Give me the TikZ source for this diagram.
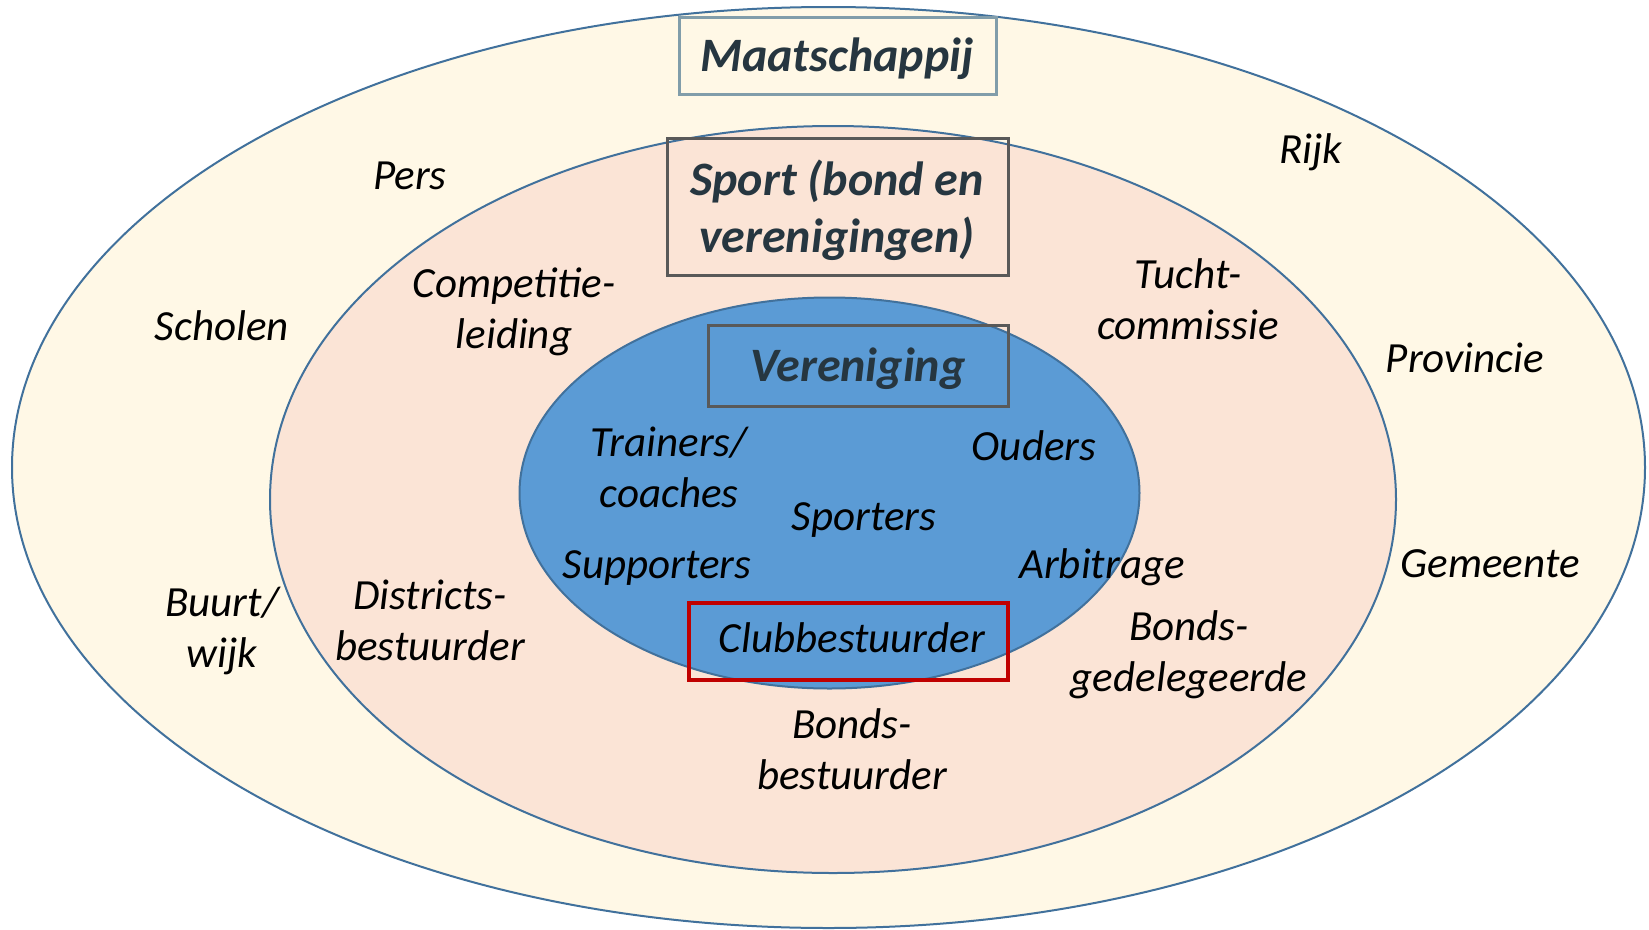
\documentclass[tikz,border=0pt]{standalone}
\usepackage{fontspec}
\setmainfont{Carlito}
\definecolor{outerfill}{HTML}{FFF8E6}
\definecolor{midfill}{HTML}{FBE4D6}
\definecolor{innerfill}{HTML}{5B9BD5}
\definecolor{ringline}{HTML}{41719C}
\definecolor{titletext}{HTML}{263640}
\definecolor{mbox}{HTML}{819DAA}
\definecolor{gbox}{HTML}{595959}
\definecolor{rbox}{HTML}{C00000}
\begin{document}
\begin{tikzpicture}[x=1pt,y=-1pt,
  ring/.style={draw=ringline,line width=2pt},
  lbl/.style={font=\fontsize{43}{51}\selectfont\itshape,align=center,anchor=base,inner sep=0pt},
  ttl/.style={font=\fontsize{48}{57}\selectfont\bfseries\itshape,text=titletext,align=center,anchor=base,inner sep=0pt},
  frame/.style={draw,line width=3pt}]
\useasboundingbox (0,0) rectangle (1649,929);
% rings
\draw[ring,fill=outerfill] (828.5,467.5) ellipse [x radius=816.5,y radius=460.5];
\draw[ring,fill=midfill] (833,499.5) ellipse [x radius=563,y radius=373.5];
\draw[ring,fill=innerfill] (829.5,493) ellipse [x radius=310,y radius=195.5];
% frames
\node[frame,draw=mbox,minimum width=317pt,minimum height=77pt,inner sep=0pt] (fM) at (837.5,55.5) {};
\node[frame,draw=gbox,minimum width=341pt,minimum height=137pt,inner sep=0pt] (fS) at (837.5,206.5) {};
\node[frame,draw=gbox,minimum width=300pt,minimum height=81pt,inner sep=0pt] (fV) at (858,365.5) {};
\node[frame,draw=rbox,line width=4.5pt,minimum width=319pt,minimum height=77pt,inner sep=0pt] (fC) at (848.5,641.5) {};
% titles
\node[ttl] (maat) at (837,71) {Maatschappij};
\node[ttl] (sport) at (837,252) {Sport (bond en\\verenigingen)};
\node[ttl] (ver) at (858,381) {Vereniging};
% outer ring labels
\node[lbl] (pers) at (410,189) {Pers};
\node[lbl] (rijk) at (1311,163) {Rijk};
\node[lbl] (scholen) at (222,340) {Scholen};
\node[lbl] (prov) at (1465,372) {Provincie};
\node[lbl] (gem) at (1490,577) {Gemeente};
\node[lbl] (buurt) at (222,667) {Buurt/\\wijk};
% middle ring labels
\node[lbl] (comp) at (514,348) {Competitie-\\leiding};
\node[lbl] (tucht) at (1188,339) {Tucht-\\commissie};
\node[lbl] (distr) at (430,660) {Districts-\\bestuurder};
\node[lbl] (bgd) at (1189,691) {Bonds-\\gedelegeerde};
\node[lbl] (bbs) at (852,789) {Bonds-\\bestuurder};
% inner labels
\node[lbl] (train) at (669,507) {Trainers/\\coaches};
\node[lbl] (ouders) at (1034,460) {Ouders};
\node[lbl] (sporters) at (864,530) {Sporters};
\node[lbl] (supp) at (657,578) {Supporters};
\node[lbl] (arb) at (1102,578) {Arbitrage};
\node[lbl] (club) at (852,652) {Clubbestuurder};
\end{tikzpicture}
\end{document}
